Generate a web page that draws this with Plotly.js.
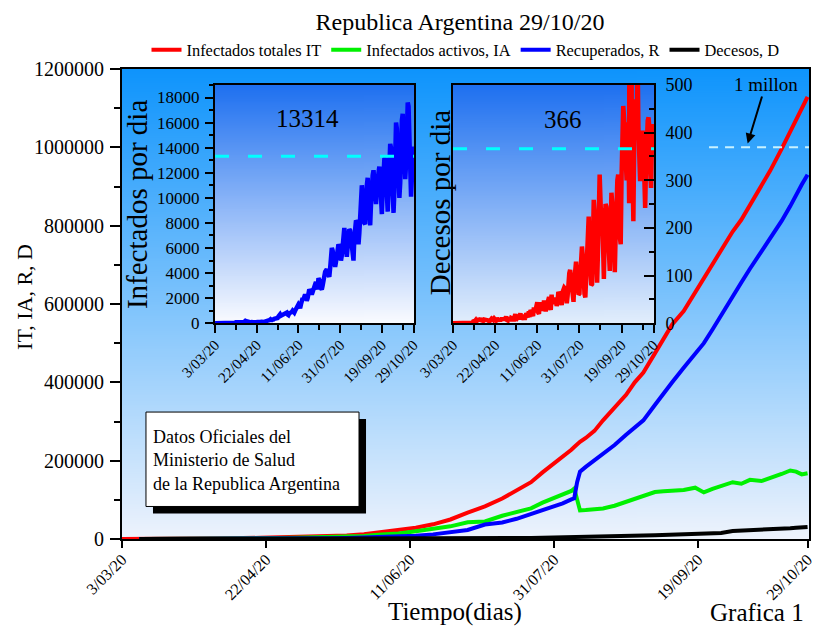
<!DOCTYPE html>
<html>
<head>
<meta charset="utf-8">
<script src="https://cdn.plot.ly/plotly-3.0.1.min.js"></script>
<style>html,body{margin:0;padding:0;background:#fff}#chart{width:815px;height:628px}</style>
</head>
<body>
<div id="chart"></div>
<script>
// ---------- DATA ----------
const fechas = ['3/03/20','22/04/20','11/06/20','31/07/20','19/09/20','29/10/20'];
const diasFechas = [0,50,100,150,200,238];

const dias = [0,6,12,18,24,30,36,42,48,54,60,66,72,78,84,90,96,102,108,114,120,126,132,137,142,146,150,153,156,157,158,159,161,164,167,171,175,178,181,185,188,191,195,199,202,205,208,212,215,218,222,225,229,232,234,236,238];

const infectadosTotales = [1,12,45,158,589,1265,1795,2443,3031,3780,4783,5776,6879,8809,12076,17415,21037,28764,37510,49851,67197,83426,103265,124000,145000,170000,192000,210000,228000,235000,243000,248000,258000,276000,303000,336000,368000,400000,425000,474000,510000,548000,582000,630000,668000,700000,738000,785000,815000,852000,902000,940000,996000,1040000,1072000,1100000,1129000];

const infectadosActivos = [null,11,43,151,525,941,1276,1746,2050,2461,3144,3726,4370,5616,7928,11578,14229,19599,24832,32308,42877,44792,59339,70100,78339,92941,105457,115150,122750,129000,100000,73000,74000,75000,78000,85000,95000,104000,112000,120000,122000,124000,125000,131000,119000,128000,135000,145000,141000,151000,148000,155000,166000,175000,172000,165000,168000];

const recuperados = [null,0,0,3,52,280,440,596,840,1140,1400,1750,2180,2800,3700,5300,6200,8400,11800,16500,23000,37000,42000,51600,64000,74000,83000,91000,101000,104000,145000,172000,184000,200000,216000,240000,266000,285000,303000,342000,372000,400000,437000,472000,500000,535000,572000,617000,655000,690000,734000,770000,812000,850000,880000,905000,930000];

const decesos = [null,1,2,4,12,44,79,101,141,179,239,300,329,393,448,537,608,765,878,1043,1320,1634,1926,2300,2661,3059,3543,3850,4250,4411,4523,4606,5004,5527,6048,6848,7563,8271,8919,9739,10405,11148,12116,13052,13952,14766,15543,20288,21018,22226,23581,24572,26107,27519,28613,29730,30792];

const infectadosPorDia = [
1,0,1,6,1,3,5,
5,2,2,3,12,3,11,
11,9,14,22,18,31,30,
66,41,29,46,86,87,101,
74,55,88,89,132,98,69,
102,162,92,153,117,137,104,
81,68,104,124,84,67,99,
85,146,110,111,91,139,115,
125,105,137,101,144,156,148,
164,165,240,291,168,300,285,
300,350,380,400,350,420,550,
700,720,600,650,620,700,720,
750,800,850,700,650,800,820,
800,900,1000,900,850,1000,1100,
1300,1400,1500,1400,1200,1500,1700,
2000,1900,2100,2300,2100,1800,2000,
2400,2700,2600,2300,2300,2500,2800,
2900,3100,3300,3000,2700,3600,3500,
3300,2800,2700,3000,3500,3900,4100,
4200,4300,4000,3800,3700,4400,5200,
6000,5800,5100,4600,4500,4900,5700,
6000,6300,6100,5300,5000,5400,6500,
7100,7600,6900,5800,5300,6100,7200,
7500,7400,6600,5600,5100,5000,6800,
7600,8200,8100,7000,6300,7200,9000,
10100,11000,10300,8700,8000,7900,10200,
11000,11600,10500,8700,7800,9500,11300,
11800,12200,11300,10300,9500,10700,11900,
12000,12500,11500,9900,8700,10600,12500,
13100,13200,12000,10000,8900,10600,12800,
14300,14000,12300,10100,8800,10500,13800,
16000,15500,13500,11300,10000,11200,14600,
16200,16700,15300,13100,11500,12700,15800,
17600,17300,15000,11800,10100,11600,13300,
14100];

const decesosPorDia = [
0,0,0,0,0,1,0,
0,0,1,0,0,0,0,
1,0,0,0,1,0,1,
0,2,1,4,4,5,7,
4,7,10,5,7,10,6,
6,5,8,8,7,6,7,
6,3,5,9,10,9,7,
10,9,6,11,5,4,10,
5,8,11,7,11,6,9,
14,7,6,12,8,5,11,
10,12,4,14,19,12,10,
12,9,14,21,8,12,14,
14,8,13,21,17,12,25,
13,28,25,20,15,33,24,
28,37,44,23,20,44,36,
35,27,30,48,39,25,35,
47,45,55,34,28,60,40,
50,48,46,54,36,44,66,
62,57,48,38,65,70,75,
73,63,42,58,98,105,112,
95,70,52,45,90,120,129,
105,80,60,62,100,135,161,
140,80,62,54,110,170,215,
224,150,100,80,82,190,259,
230,190,110,85,150,260,312,
260,200,242,120,93,180,250,
245,230,200,130,110,200,274,
250,210,130,107,190,280,300,
312,290,180,166,310,420,456,
430,400,330,300,380,422,252,
420,3351,430,300,214,380,470,
450,420,560,410,350,298,360,
390,404,370,300,242,330,410,
425,432,410,320,284,380,418,
361];

const promedioInfectados = 13314;
const promedioDecesos = 366;
const marcaMillon = 1000000;

const diasDiarios = infectadosPorDia.map((_, i) => i);

// ---------- STYLE ----------
const FONT = 'Liberation Serif';
const XR = [0, 238.5];

function gradiente(top, bottom) {
  const c = document.createElement('canvas');
  c.width = 2; c.height = 512;
  const ctx = c.getContext('2d');
  const g = ctx.createLinearGradient(0, 0, 0, 512);
  g.addColorStop(0, top); g.addColorStop(1, bottom);
  ctx.fillStyle = g; ctx.fillRect(0, 0, 2, 512);
  return c.toDataURL('image/png');
}

const IN1 = [0.1354, 0.4250];
const IN2 = [0.4818, 0.7744];
const INY = [0.459, 0.966];

const traces = [
  {x: dias, y: infectadosTotales, type:'scatter', mode:'lines', name:'Infectados totales IT', line:{color:'#ff0000', width:4}, xaxis:'x', yaxis:'y'},
  {x: dias, y: infectadosActivos, type:'scatter', mode:'lines', name:'Infectados activos, IA', line:{color:'#00f000', width:4}, xaxis:'x', yaxis:'y'},
  {x: dias, y: recuperados, type:'scatter', mode:'lines', name:'Recuperados, R', line:{color:'#0000ff', width:4}, xaxis:'x', yaxis:'y'},
  {x: dias, y: decesos, type:'scatter', mode:'lines', name:'Decesos, D', line:{color:'#000000', width:4}, xaxis:'x', yaxis:'y'},
  {x: diasDiarios, y: infectadosPorDia, type:'scatter', mode:'lines', showlegend:false, line:{color:'#0000ff', width:4.5}, xaxis:'x2', yaxis:'y2'},
  {x: diasDiarios, y: decesosPorDia, type:'scatter', mode:'lines', showlegend:false, line:{color:'#ff0000', width:4.5}, xaxis:'x3', yaxis:'y3'}
];

const baseX = {
  range: XR, tickmode:'array', tickvals: diasFechas, ticktext: fechas, tickangle:-45,
  ticks:'outside', tickwidth:2, tickcolor:'black', showline:true, linewidth:2, linecolor:'black',
  mirror:true, showgrid:false, zeroline:false, automargin:false, fixedrange:true, ticklabeloverflow:'allow'
};

function ann(text, x, y, size, extra) {
  return Object.assign({text:text, xref:'paper', yref:'paper', x:x, y:y, xanchor:'center', yanchor:'middle', showarrow:false, font:{family:FONT, size:size, color:'#000'}}, extra || {});
}

const layout = {
  width:815, height:628,
  margin:{l:122, r:6, t:69, b:89, pad:0},
  paper_bgcolor:'#ffffff', plot_bgcolor:'rgba(0,0,0,0)',
  font:{family:FONT, color:'#000000'},
  showlegend:true,
  hovermode:false,
  title:{text:'Republica Argentina 29/10/20', x:0.5644, xref:'container', xanchor:'center', y:0.965, yref:'container', yanchor:'middle', font:{family:FONT, size:24, color:'#000'}},
  legend:{orientation:'h', x:0.5, xanchor:'center', y:1.0404, yanchor:'middle', font:{family:FONT, size:16.4, color:'#000'}, bgcolor:'rgba(0,0,0,0)', itemwidth:30, tracegroupgap:0},
  xaxis: Object.assign({}, baseX, {domain:[0,1], anchor:'y', ticklen:7, tickfont:{family:FONT, size:16, color:'#000'}, ticklabelstandoff:-4}),
  yaxis: {domain:[0,1], anchor:'x', range:[0,1200000], dtick:200000, tickformat:'d', ticks:'outside', ticklen:10, tickwidth:2, tickcolor:'black',
          minor:{dtick:100000, ticks:'outside', ticklen:6, tickwidth:2, tickcolor:'black'},
          showline:true, linewidth:2, linecolor:'black', mirror:true, showgrid:false, zeroline:false, automargin:false, fixedrange:true,
          tickfont:{family:FONT, size:20, color:'#000'}, ticklabelstandoff:2},
  xaxis4: {overlaying:'x', anchor:'y', side:'top', range:XR, tickmode:'array', tickvals:[0,50,100,150,200], ticks:'inside', ticklen:8, tickwidth:2, tickcolor:'black', showticklabels:false, showline:false, showgrid:false, zeroline:false},
  yaxis4: {overlaying:'y', anchor:'x', side:'right', range:[0,1200000], dtick:100000, ticks:'inside', ticklen:8, tickwidth:2, tickcolor:'black', showticklabels:false, showline:false, showgrid:false, zeroline:false},

  xaxis2: Object.assign({}, baseX, {domain:IN1, anchor:'y2', ticklen:8, tickfont:{family:FONT, size:15, color:'#000'}, ticklabelstandoff:-3,
          minor:{tickmode:'array', tickvals:[25,75,125,175,225], ticks:'outside', ticklen:5, tickwidth:2, tickcolor:'black'}}),
  yaxis2: {domain:INY, anchor:'x2', range:[0,19000], dtick:2000, tickformat:'d', ticks:'outside', ticklen:8, tickwidth:2, tickcolor:'black',
          minor:{dtick:1000, ticks:'outside', ticklen:4, tickwidth:2, tickcolor:'black'},
          showline:true, linewidth:2, linecolor:'black', mirror:true, showgrid:false, zeroline:false, automargin:false, fixedrange:true,
          tickfont:{family:FONT, size:17, color:'#000'}, ticklabelstandoff:2},
  xaxis5: {overlaying:'x2', anchor:'y2', side:'top', range:XR, tickmode:'array', tickvals:[25,50,75,100,125,150,175,200,225], ticks:'inside', ticklen:5, tickwidth:2, tickcolor:'black', showticklabels:false, showline:false, showgrid:false, zeroline:false},

  xaxis3: Object.assign({}, baseX, {domain:IN2, anchor:'y3', ticklen:8, tickfont:{family:FONT, size:15, color:'#000'}, ticklabelstandoff:-3,
          minor:{tickmode:'array', tickvals:[25,75,125,175,225], ticks:'outside', ticklen:5, tickwidth:2, tickcolor:'black'}}),
  yaxis3: {domain:INY, anchor:'x3', side:'right', range:[0,500], dtick:100, tickformat:'d', ticks:'inside', ticklen:10, tickwidth:2, tickcolor:'black',
          minor:{dtick:50, ticks:'inside', ticklen:5, tickwidth:2, tickcolor:'black'},
          showline:true, linewidth:2, linecolor:'black', mirror:true, showgrid:false, zeroline:false, automargin:false, fixedrange:true,
          tickfont:{family:FONT, size:18, color:'#000'}, ticklabelstandoff:6},
  yaxis6: {overlaying:'y3', anchor:'x3', side:'left', range:[0,500], dtick:100, ticks:'inside', ticklen:10, tickwidth:2, tickcolor:'black',
          minor:{dtick:50, ticks:'inside', ticklen:5, tickwidth:2, tickcolor:'black'},
          showticklabels:false, showline:false, showgrid:false, zeroline:false},
  xaxis6: {overlaying:'x3', anchor:'y3', side:'top', range:XR, tickmode:'array', tickvals:[25,50,75,100,125,150,175,200,225], ticks:'inside', ticklen:5, tickwidth:2, tickcolor:'black', showticklabels:false, showline:false, showgrid:false, zeroline:false},

  images: [
    {source: gradiente('rgb(14,148,252)', 'rgb(238,243,252)'), xref:'paper', yref:'paper', x:0, y:1, sizex:1, sizey:1, xanchor:'left', yanchor:'top', sizing:'stretch', layer:'below'},
    {source: gradiente('rgb(30,112,240)', 'rgb(250,251,255)'), xref:'paper', yref:'paper', x:IN1[0], y:INY[1], sizex:IN1[1]-IN1[0], sizey:INY[1]-INY[0], xanchor:'left', yanchor:'top', sizing:'stretch', layer:'below'},
    {source: gradiente('rgb(30,112,240)', 'rgb(226,238,252)'), xref:'paper', yref:'paper', x:IN2[0], y:INY[1], sizex:IN2[1]-IN2[0], sizey:INY[1]-INY[0], xanchor:'left', yanchor:'top', sizing:'stretch', layer:'below'}
  ],

  shapes: [
    {type:'line', xref:'x2', yref:'y2', x0:XR[0], x1:XR[1], y0:promedioInfectados, y1:promedioInfectados, line:{color:'#00ffff', width:3, dash:'14px,19px'}},
    {type:'line', xref:'x3', yref:'y3', x0:XR[0], x1:XR[1], y0:promedioDecesos, y1:promedioDecesos, line:{color:'#00ffff', width:3, dash:'14px,19px'}},
    {type:'line', xref:'x', yref:'y', x0:203.8, x1:XR[1], y0:marcaMillon, y1:marcaMillon, line:{color:'#c8f2ff', width:2, dash:'9px,7px'}},
    {type:'rect', xref:'paper', yref:'paper', x0:0.0451, x1:0.3552, y0:0.0543, y1:0.2552, fillcolor:'#000000', line:{width:0}},
    {type:'rect', xref:'paper', yref:'paper', x0:0.0349, x1:0.3450, y0:0.0692, y1:0.2701, fillcolor:'#ffffff', line:{color:'#000000', width:1}}
  ],

  annotations: [
    ann('IT, IA, R, D', -0.1412, 0.515, 22, {textangle:-90}),
    ann('Tiempo(dias)', 0.4847, -0.156, 25),
    ann('Grafica 1', 0.9243, -0.156, 25),
    ann('Infectados por dia', 0.0218, 0.7125, 29, {textangle:-90}),
    ann('Decesos por dia', 0.4629, 0.7146, 29, {textangle:-90}),
    ann(String(promedioInfectados), 0.2693, 0.8957, 25),
    ann(String(promedioDecesos), 0.6419, 0.8935, 25),
    {text:'1 millon', xref:'x', yref:'y', x:217.2, y:1010000, ax:18, ay:-59, showarrow:true, arrowhead:2, arrowsize:1, arrowwidth:2, arrowcolor:'#000', standoff:0, font:{family:FONT, size:19, color:'#000'}},
    ann('Datos Oficiales del<br>Ministerio de Salud<br>de la Republica Argentina', 0.0422, 0.167, 18, {xanchor:'left', align:'left'})
  ]
};

Plotly.newPlot('chart', traces, layout, {staticPlot:true, displayModeBar:false});
</script>
</body>
</html>
